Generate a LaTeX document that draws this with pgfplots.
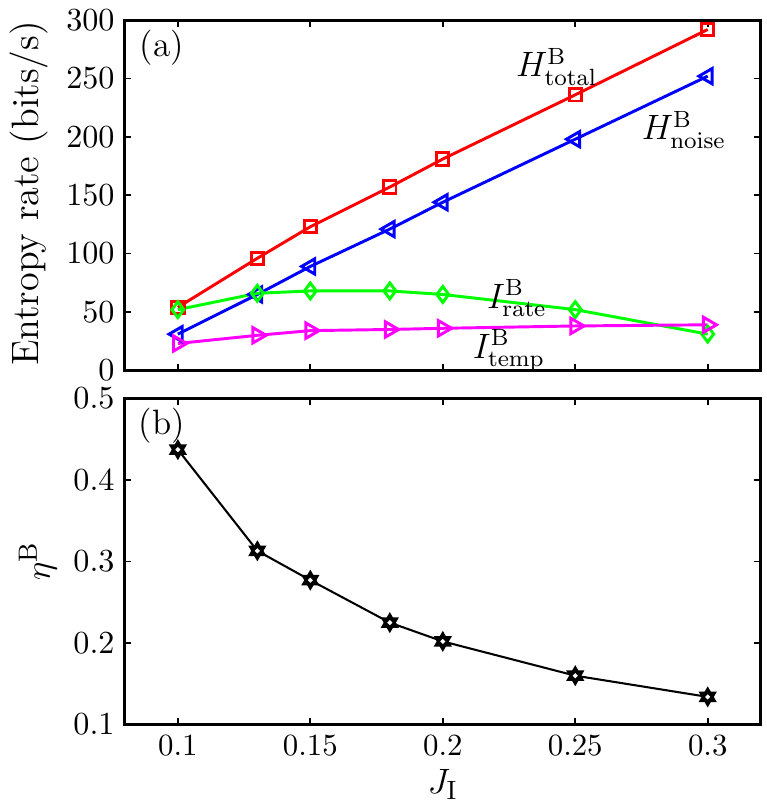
\documentclass[border=0pt]{standalone}
\usepackage{pgfplots}
\pgfplotsset{compat=1.18}
\definecolor{mred}{rgb}{1,0,0}
\definecolor{mblue}{rgb}{0,0,1}
\definecolor{mgreen}{rgb}{0,1,0}
\definecolor{mmag}{rgb}{1,0,1}
\begin{document}
\begin{tikzpicture}
\pgfplotsset{
  myaxis/.style={
    scale only axis, width=216.6pt,
    xmin=0.08, xmax=0.32,
    xtick={0.1,0.15,0.2,0.25,0.3},
    tick align=inside, major tick length=2.2pt,
    axis line style={line width=1pt},
    every tick/.style={black, line width=0.6pt},
    tick label style={font=\fontsize{10.5}{12}\selectfont},
    label style={font=\fontsize{13}{15}\selectfont},
    clip=false,
  }
}
\begin{axis}[myaxis, name=top,
  height=119.3pt, ymin=0, ymax=300,
  ytick={0,50,100,150,200,250,300},
  xticklabels={},
  ylabel={Entropy rate (bits/s)},
  ylabel style={at={(axis description cs:-0.151,0.505)}, anchor=center},
]
\addplot[mred, line width=1pt, mark=square, mark size=2.1pt, mark options={solid, line width=1pt}]
  coordinates {(0.1,54) (0.13,96) (0.15,123) (0.18,157) (0.2,181) (0.25,236) (0.3,292)};
\addplot[mblue, line width=1pt, mark=triangle, mark size=3pt, mark options={solid, line width=1pt, rotate=90}]
  coordinates {(0.1,31) (0.13,65) (0.15,89) (0.18,121) (0.2,144) (0.25,198) (0.3,252)};
\addplot[mgreen, line width=1pt, mark=diamond, mark size=2.7pt, mark options={solid, line width=1pt}]
  coordinates {(0.1,52) (0.13,66) (0.15,68) (0.18,68) (0.2,65) (0.25,52) (0.3,31)};
\addplot[mmag, line width=1pt, mark=triangle, mark size=3pt, mark options={solid, line width=1pt, rotate=-90}]
  coordinates {(0.1,23) (0.13,30) (0.15,34) (0.18,35) (0.2,36) (0.25,38) (0.3,39)};
\node[font=\fontsize{12}{14}\selectfont] at (axis cs:0.243,260) {$H^{\mathrm{B}}_{\mathrm{total}}$};
\node[font=\fontsize{12}{14}\selectfont] at (axis cs:0.291,206) {$H^{\mathrm{B}}_{\mathrm{noise}}$};
\node[font=\fontsize{12}{14}\selectfont] at (axis cs:0.228,62) {$I^{\mathrm{B}}_{\mathrm{rate}}$};
\node[font=\fontsize{12}{14}\selectfont] at (axis cs:0.225,17) {$I^{\mathrm{B}}_{\mathrm{temp}}$};
\node[font=\fontsize{12}{14}\selectfont] at (rel axis cs:0.058,0.922) {(a)};
\end{axis}
\begin{axis}[myaxis, at={(0,-9.5pt)}, anchor=north west,
  height=111.2pt, ymin=0.1, ymax=0.5,
  ytick={0.1,0.2,0.3,0.4,0.5},
  yticklabel style={/pgf/number format/.cd, fixed, precision=1},
  xticklabels={0.1,0.15,0.2,0.25,0.3},
  xlabel={$J_{\mathrm{I}}$},
  xlabel style={at={(axis description cs:0.5,0)}, anchor=center, yshift=-20.3pt},
  ylabel={$\eta^{\mathrm{B}}$},
  ylabel style={at={(axis description cs:-0.137,0.5)}, anchor=center},
]
\addplot[black, line width=0.7pt, mark=triangle*, mark size=3.1pt, mark options={solid, line width=0.5pt}]
  coordinates {(0.1,0.437) (0.13,0.313) (0.15,0.277) (0.18,0.225) (0.2,0.202) (0.25,0.160) (0.3,0.134)};
\addplot[black, only marks, mark=triangle*, mark size=3.1pt, mark options={solid, line width=0.5pt, rotate=180}]
  coordinates {(0.1,0.437) (0.13,0.313) (0.15,0.277) (0.18,0.225) (0.2,0.202) (0.25,0.160) (0.3,0.134)};
\addplot[white, only marks, mark=*, mark size=0.6pt]
  coordinates {(0.1,0.437) (0.13,0.313) (0.15,0.277) (0.18,0.225) (0.2,0.202) (0.25,0.160) (0.3,0.134)};
\node[font=\fontsize{12}{14}\selectfont] at (rel axis cs:0.058,0.915) {(b)};
\end{axis}
\path (-41.9pt,-149.1pt) rectangle (218.6pt,124.3pt);
\end{tikzpicture}
\end{document}
